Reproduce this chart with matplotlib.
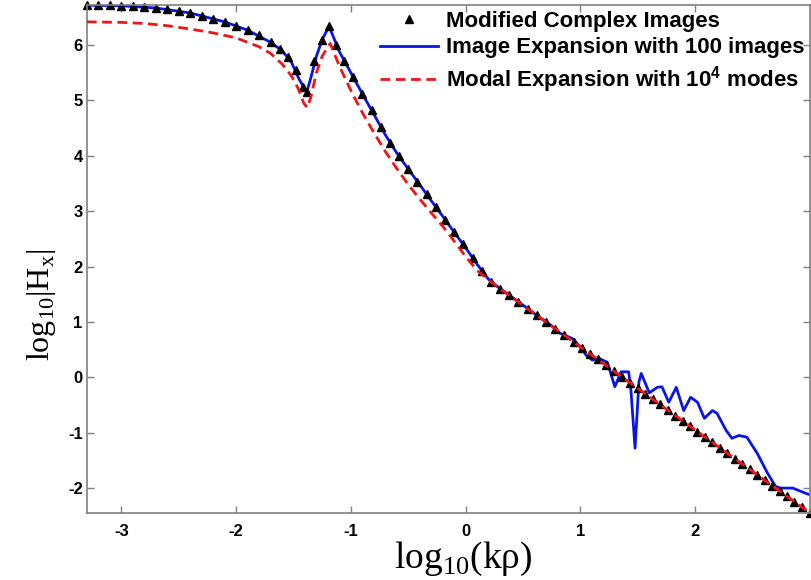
import matplotlib
matplotlib.use("Agg")
import matplotlib.pyplot as plt

# Modified Complex Images (triangle markers)
mci_x = [-3.30, -3.20, -3.10, -3.00, -2.90, -2.80, -2.70, -2.60, -2.50, -2.40,
         -2.30, -2.20, -2.10, -2.00, -1.90, -1.80, -1.70, -1.62, -1.55, -1.48,
         -1.42, -1.385, -1.32, -1.25, -1.19, -1.13, -1.06, -0.98, -0.90, -0.82,
         -0.74, -0.66, -0.58, -0.50, -0.42, -0.34, -0.26, -0.18, -0.10, -0.02,
         0.06, 0.14, 0.22, 0.30, 0.38, 0.46, 0.54, 0.62, 0.70, 0.78,
         0.86, 0.94, 1.01, 1.08, 1.15, 1.22, 1.29, 1.36, 1.43, 1.50,
         1.565, 1.63, 1.695, 1.76, 1.825, 1.89, 1.955, 2.02, 2.085, 2.15,
         2.215, 2.28, 2.345, 2.41, 2.475, 2.54, 2.605, 2.67, 2.735, 2.80,
         2.865, 2.93, 3.00]
mci_y = [6.72, 6.72, 6.72, 6.71, 6.70, 6.69, 6.67, 6.65, 6.62, 6.58,
         6.53, 6.48, 6.42, 6.35, 6.27, 6.18, 6.05, 5.93, 5.79, 5.55,
         5.25, 5.15, 5.72, 6.10, 6.34, 6.00, 5.72, 5.42, 5.12, 4.82,
         4.52, 4.24, 3.99, 3.76, 3.53, 3.31, 3.08, 2.85, 2.62, 2.40,
         2.16, 1.92, 1.73, 1.60, 1.48, 1.36, 1.24, 1.12, 1.00, 0.88,
         0.76, 0.64, 0.535, 0.43, 0.325, 0.22, 0.115, 0.01, -0.095, -0.20,
         -0.30, -0.395, -0.49, -0.59, -0.69, -0.785, -0.88, -0.98, -1.08, -1.175,
         -1.27, -1.37, -1.47, -1.565, -1.66, -1.76, -1.86, -1.955, -2.05, -2.15,
         -2.25, -2.345, -2.45]

# Image Expansion with 100 images (blue solid)
img_x = [-3.30, -3.00, -2.70, -2.40, -2.10, -1.90, -1.70, -1.60, -1.52, -1.45,
         -1.385, -1.35, -1.30, -1.25, -1.19, -1.10, -1.00, -0.90, -0.80, -0.70,
         -0.60, -0.50, -0.40, -0.30, -0.20, -0.10, 0.00, 0.10, 0.20, 0.30,
         0.45, 0.60, 0.75, 0.82, 0.93, 0.99, 1.05, 1.105, 1.165, 1.235,
         1.30, 1.354, 1.42, 1.44, 1.476, 1.51, 1.53, 1.60, 1.67, 1.71,
         1.77, 1.835, 1.90, 1.96, 2.02, 2.08, 2.15, 2.19, 2.27, 2.32,
         2.38, 2.45, 2.54, 2.63, 2.70, 2.745, 2.85, 2.97, 3.00]
img_y = [6.72, 6.71, 6.67, 6.58, 6.42, 6.27, 6.05, 5.90, 5.70, 5.38,
         5.15, 5.40, 5.80, 6.10, 6.34, 5.88, 5.50, 5.12, 4.75, 4.38,
         4.05, 3.76, 3.48, 3.19, 2.91, 2.62, 2.34, 2.04, 1.77, 1.60,
         1.38, 1.15, 0.93, 0.80, 0.70, 0.57, 0.40, 0.31, 0.34, 0.27,
         -0.17, 0.10, 0.10, -0.23, -1.28, -0.08, 0.07, -0.28, -0.18, -0.17,
         -0.45, -0.18, -0.60, -0.36, -0.45, -0.74, -0.60, -0.65, -0.96, -1.10,
         -1.05, -1.08, -1.37, -1.73, -1.97, -2.00, -2.00, -2.10, -2.12]

# Modal Expansion with 10^4 modes (red dashed)
modal_x = [-3.30, -3.00, -2.80, -2.60, -2.40, -2.20, -2.00, -1.80, -1.70, -1.60,
           -1.52, -1.46, -1.41, -1.38, -1.35, -1.30, -1.25, -1.18, -1.10, -1.00,
           -0.90, -0.80, -0.70, -0.60, -0.50, -0.40, -0.30, -0.20, -0.10, 0.00,
           0.10, 0.20, 0.30, 0.50, 1.00, 1.50, 2.00, 2.50, 3.00]
modal_y = [6.42, 6.41, 6.39, 6.35, 6.29, 6.22, 6.13, 5.97, 5.85, 5.66,
           5.45, 5.22, 4.95, 4.87, 5.05, 5.50, 5.80, 6.03, 5.62, 5.18,
           4.78, 4.42, 4.08, 3.77, 3.48, 3.22, 2.97, 2.73, 2.46, 2.18,
           1.93, 1.76, 1.60, 1.30, 0.55, -0.20, -0.95, -1.70, -2.45]

plt.rcParams["mathtext.fontset"] = "custom"
plt.rcParams["mathtext.rm"] = "Liberation Serif"

fig = plt.figure(figsize=(8.12, 5.8), dpi=100)
ax = fig.add_axes([0.107, 0.1155, 0.8905, 0.8755])

ax.plot(mci_x, mci_y, linestyle="none", marker="^", ms=5.5, color="black",
        label="Modified Complex Images", zorder=2, clip_on=False)
ax.plot(img_x, img_y, "-", color="#0a14e6", lw=2,
        label="Image Expansion with 100 images", zorder=1)
ax.plot(modal_x, modal_y, "--", color="#f01414", lw=2, dashes=(3.5, 2),
        label="Modal Expansion with $\\mathregular{10^4}$ modes", zorder=3)

ax.set_xlim(-3.3, 3.0)
ax.set_ylim(-2.45, 6.72)
ax.set_xticks([-3, -2, -1, 0, 1, 2])
ax.set_yticks([-2, -1, 0, 1, 2, 3, 4, 5, 6])
ax.set_xticklabels(["-3", "-2", "-1", "0", "1", "2"])
ax.set_yticklabels(["-2", "-1", "0", "1", "2", "3", "4", "5", "6"])
ax.tick_params(direction="in", top=True, right=True, length=5, width=1,
               color="#808080", labelsize=12)
ax.tick_params(axis="x", pad=8)
ax.tick_params(axis="y", pad=3)
for lab in ax.get_xticklabels() + ax.get_yticklabels():
    lab.set_fontweight("bold")
    lab.set_family("Liberation Sans")
for sp in ax.spines.values():
    sp.set_color("#808080")
    sp.set_linewidth(1.2)

ax.set_xlabel("log$_{\\mathregular{10}}$(kρ)", family="Liberation Serif",
              fontsize=27)
ax.xaxis.set_label_coords(0.52, -0.052)
ax.xaxis.label.set_va("top")
ax.set_ylabel("log$_{\\mathregular{10}}$|H$_{\\mathregular{x}}$|",
              family="Liberation Serif", fontsize=23)
ax.yaxis.set_label_coords(-0.04, 0.41)

leg = ax.legend(loc="upper right", frameon=False, handlelength=2.6,
                handletextpad=0.35, labelspacing=0.25, borderaxespad=0.1,
                borderpad=0.15,
                prop={"family": "Liberation Sans", "weight": "bold", "size": 16})

fig.savefig("out.png", dpi=100)
